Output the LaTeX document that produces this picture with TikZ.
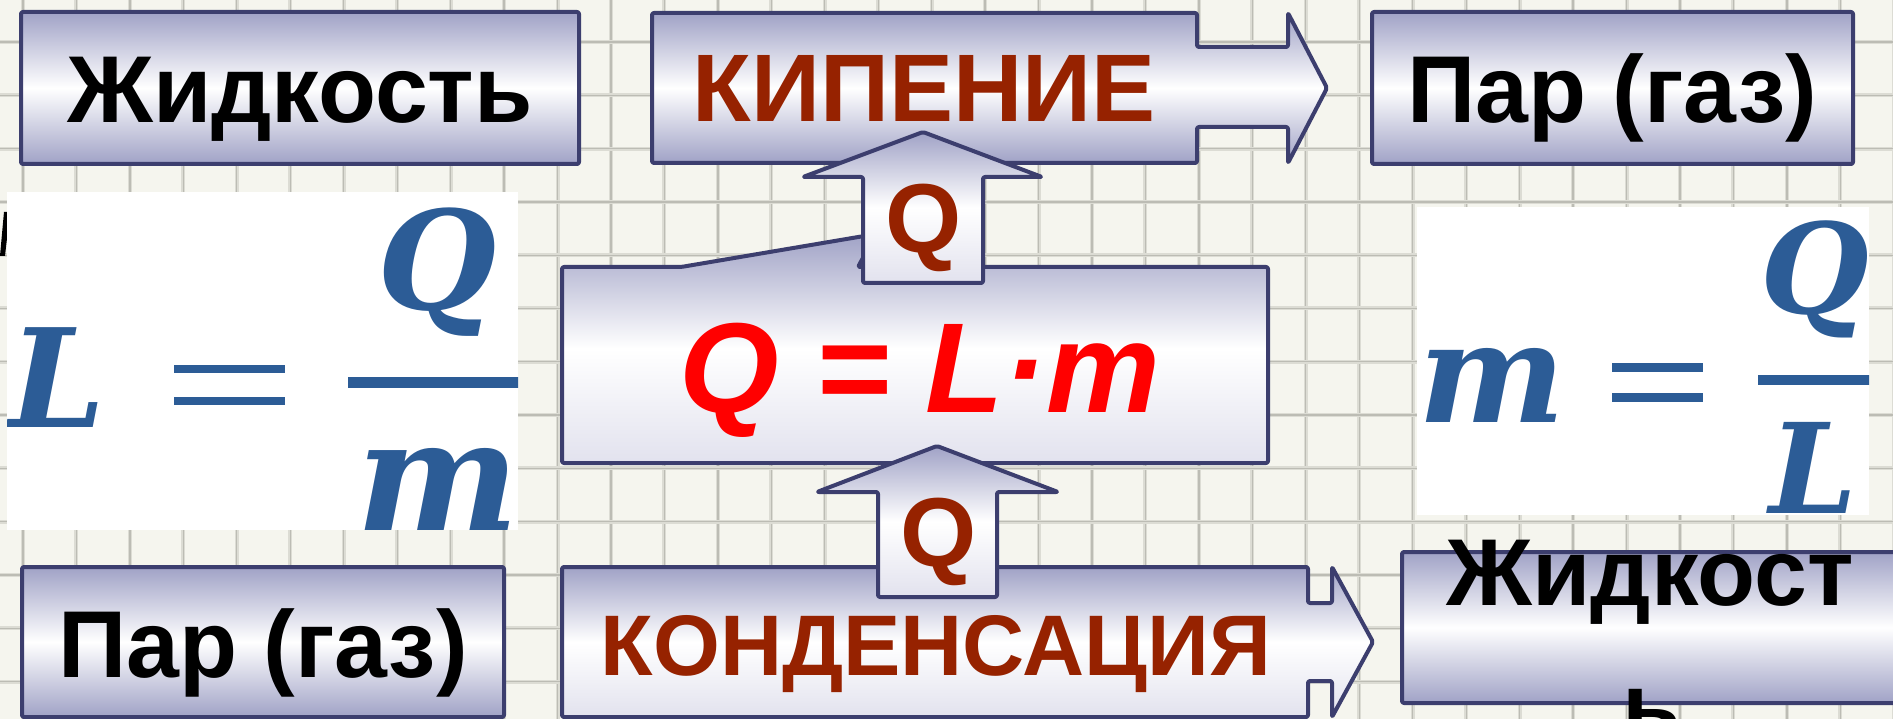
\documentclass[tikz,border=0pt]{standalone}
\usepackage{fontspec}
\setmainfont{Liberation Sans}
\newfontfamily\fmlfont{DejaVu Serif}
\definecolor{paper}{RGB}{245,245,238}
\definecolor{gridsoft}{RGB}{220,220,212}
\definecolor{gridhard}{RGB}{188,188,180}
\definecolor{lav}{RGB}{160,162,198}
\definecolor{lavlight}{RGB}{226,226,238}
\definecolor{edge}{RGB}{60,62,110}
\definecolor{brick}{RGB}{150,34,0}
\definecolor{formblue}{RGB}{44,92,150}
\tikzset{
  panel/.style={draw=edge, line width=4pt, line join=round, rounded corners=2pt,
    top color=lav, bottom color=lav, middle color=white},
  panelmid/.style={draw=edge, line width=4pt, line join=round, rounded corners=2pt,
    top color=lav, bottom color=lavlight, middle color=white},
  boxnode/.style={panel, rectangle, inner sep=0pt},
  lbl/.style={anchor=base, inner sep=0pt, font=\bfseries\fontsize{95}{114}\selectfont},
  fml/.style={anchor=base, inner sep=0pt, text=formblue, text depth=0pt},
  gridline/.style={gridsoft, line width=4pt},
  gridcore/.style={gridhard, line width=1.3pt},
}
\begin{document}
\begin{tikzpicture}[x=1pt,y=-1pt]
\useasboundingbox (0,0) rectangle (1893,719);
\clip (0,0) rectangle (1893,719);
\fill[paper] (0,0) rectangle (1893,719);
% notebook grid
\foreach \i in {0,...,35} {
  \draw[gridline] ({23+53.45*\i},0) -- ({23+53.45*\i},719);
  \draw[gridcore] ({23+53.45*\i},0) -- ({23+53.45*\i},719);
}
\foreach \j in {0,...,13} {
  \draw[gridline] (0,{42+53.3*\j}) -- (1893,{42+53.3*\j});
  \draw[gridcore] (0,{42+53.3*\j}) -- (1893,{42+53.3*\j});
}

% ---------- top row ----------
\node[boxnode, minimum width=558pt, minimum height=152pt] (boxLiqTop) at (300,88) {};
\node[lbl] (txtLiqTop) at (300,123) {Жидкость};

\path[panel] (652,13) -- (1197,13) -- (1197,47) -- (1288,47) -- (1288,13)
  -- (1327,88) -- (1288,163) -- (1288,127) -- (1197,127) -- (1197,163)
  -- (652,163) -- cycle;
\node[lbl, text=brick, font=\bfseries\fontsize{96}{116}\selectfont] (txtBoil) at (924,122) {КИПЕНИЕ};

\node[boxnode, minimum width=481pt, minimum height=152pt] (boxVapTop) at (1612.5,88) {};
\node[lbl] (txtVapTop) at (1612,123) {Пар (газ)};

% ---------- left formula ----------
\fill[black] (0,256) -- (5,256) -- (10,212) -- (4,212) -- cycle;
\fill[white] (7,192) rectangle (518,530);
\begin{scope}
  \clip (7,192) rectangle (518,530);
  \node[fml, font=\fmlfont\bfseries\itshape\fontsize{137}{140}\selectfont] (fL1) at (58,427) {L};
  \fill[formblue] (174,365) rectangle (285,373);
  \fill[formblue] (174,397) rectangle (285,405);
  \fill[formblue] (348,377) rectangle (540,388);
  \node[fml, font=\fmlfont\bfseries\itshape\fontsize{137}{140}\selectfont] (fQ1) at (437,310) {Q};
  \node[fml, font=\fmlfont\bfseries\itshape\fontsize{154}{160}\selectfont] (fm1) at (438,530) {m};
\end{scope}

% ---------- right formula ----------
\fill[white] (1417,207) rectangle (1869,515);
\begin{scope}
  \clip (1417,207) rectangle (1869,515);
  \node[fml, font=\fmlfont\bfseries\itshape\fontsize{139}{140}\selectfont] (fm2) at (1492,422) {m};
  \fill[formblue] (1612,363) rectangle (1703,372);
  \fill[formblue] (1612,393) rectangle (1703,402);
  \fill[formblue] (1758,375) rectangle (1880,385);
  \node[fml, font=\fmlfont\bfseries\itshape\fontsize{125}{130}\selectfont] (fQ2) at (1815,314) {Q};
  \node[fml, font=\fmlfont\bfseries\itshape\fontsize{125}{130}\selectfont] (fL2) at (1813,513) {L};
\end{scope}

% ---------- central formula box ----------
\path[panelmid] (562,267) -- (681,267) -- (876,234) -- (858,267) -- (1268,267)
  -- (1268,463) -- (562,463) -- cycle;
\node[anchor=base, inner sep=0pt, text=red,
  font=\bfseries\itshape\fontsize{128}{140}\selectfont] (txtFormula) at (920,412) {Q = L·m};

% upper Q arrow
\path[panelmid] (803,177) -- (923,132) -- (1042,177) -- (983,177) -- (983,283)
  -- (863,283) -- (863,177) -- cycle;
\node[lbl, text=brick, font=\bfseries\fontsize{98}{116}\selectfont] (txtQtop) at (924,253) {Q};

% ---------- bottom row ----------
\node[boxnode, minimum width=482pt, minimum height=150pt] (boxVapBot) at (263,642) {};
\node[lbl] (txtVapBot) at (263,677) {Пар (газ)};

\path[panelmid] (562,567) -- (1308,567) -- (1308,603) -- (1332,603) -- (1332,567)
  -- (1373,642) -- (1332,717) -- (1332,681) -- (1308,681) -- (1308,717)
  -- (562,717) -- cycle;
\node[lbl, text=brick, font=\bfseries\fontsize{86}{104}\selectfont] (txtCond) at (936,675) {КОНДЕНСАЦИЯ};

\path[panelmid] (817,492) -- (937,446) -- (1058,492) -- (997,492) -- (997,597)
  -- (878,597) -- (878,492) -- cycle;
\node[lbl, text=brick, font=\bfseries\fontsize{98}{116}\selectfont] (txtQbot) at (939,566) {Q};

\node[boxnode, minimum width=498pt, minimum height=151pt] (boxLiqBot) at (1651,627.5) {};
\node[lbl] (txtLiqBotA) at (1650,605) {Жидкост};
\node[lbl] (txtLiqBotB) at (1652,739) {ь};
\end{tikzpicture}
\end{document}
